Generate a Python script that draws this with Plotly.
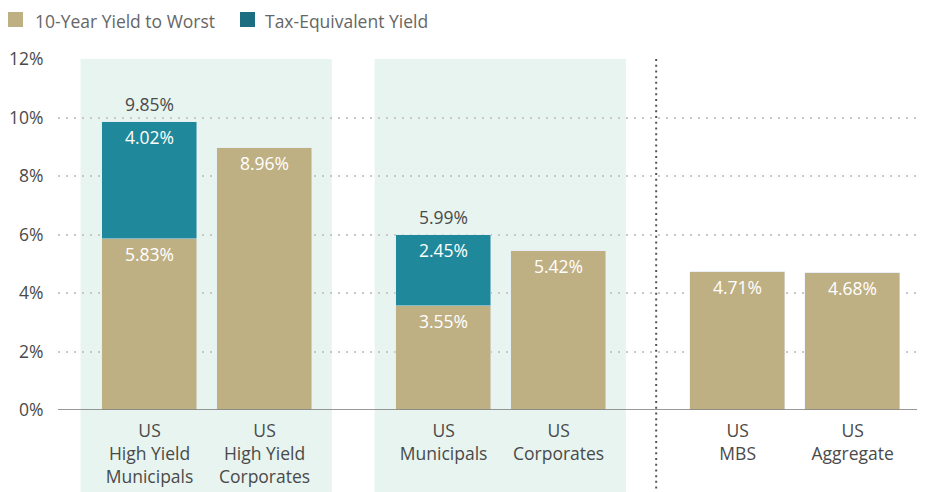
import plotly.graph_objects as go

categories = ["US<br>High Yield<br>Municipals", "US<br>High Yield<br>Corporates",
              "US<br>Municipals", "US<br>Corporates", "US<br>MBS", "US<br>Aggregate"]
group_index = [0, 0, 1, 1, 2, 2]
yield_to_worst = [5.83, 8.96, 3.55, 5.42, 4.71, 4.68]
tax_equiv_add = [4.02, None, 2.45, None, None, None]
tax_equiv_total = [9.85, None, 5.99, None, None, None]
y_ticks = [0, 2, 4, 6, 8, 10, 12]
y_tick_labels = ["0%", "2%", "4%", "6%", "8%", "10%", "12%"]
series_names = ["10-Year Yield to Worst", "Tax-Equivalent Yield"]

TAN = "#BFB084"
TEAL = "#1F889A"
TEAL_LEG = "#1D6E80"
TXT = "#4A4A4A"
GAP = 0.557
xs = [i + GAP * g for i, g in enumerate(group_index)]
FONT = "Open Sans, Arial, sans-serif"
FS = 17.5

W, H = 917, 484
ML, MT, MB = 50, 51, 82
PW, PH = W - ML, H - MT - MB


def px(sx, sy):
    # screen pixel (page has 8px body margin) -> paper coords
    fx, fy = sx - 8, sy - 8
    return (fx - ML) / PW, 1 + (MT - fy) / PH


fig = go.Figure()
fig.add_bar(x=xs, y=yield_to_worst, marker_color=TAN, width=0.826, name=series_names[0],
            showlegend=False)
fig.add_bar(x=xs, y=[v if v is not None else 0 for v in tax_equiv_add], marker_color=TEAL,
            width=0.826, name=series_names[1], showlegend=False)

ann = []
for x, v in zip(xs, yield_to_worst):
    ann.append(dict(x=x, y=v, text=f"{v:.2f}%", showarrow=False, yshift=-15,
                    font=dict(color="white", size=FS, family=FONT)))
for x, b, a, t in zip(xs, yield_to_worst, tax_equiv_add, tax_equiv_total):
    if a is not None:
        ann.append(dict(x=x, y=b + a, text=f"{a:.2f}%", showarrow=False, yshift=-15,
                        font=dict(color="white", size=FS, family=FONT)))
        ann.append(dict(x=x, y=t, text=f"{t:.2f}%", showarrow=False, yshift=18,
                        font=dict(color=TXT, size=FS, family=FONT)))

shapes = []
for g in (0, 1):
    gx = [x for x, gi in zip(xs, group_index) if gi == g]
    shapes.append(dict(type="rect", xref="x", yref="paper", x0=min(gx) - 0.6, x1=max(gx) + 0.585,
                       y0=-0.24, y1=1, fillcolor="#E7F4F0", line_width=0, layer="below"))
sep_x = (xs[3] + xs[4]) / 2 + 0.07
shapes.append(dict(type="line", xref="x", yref="paper", x0=sep_x, x1=sep_x, y0=-0.24, y1=1,
                   line=dict(color="#555555", width=2, dash="2px,3.7px")))
shapes.append(dict(type="line", xref="paper", yref="y", x0=0, x1=1, y0=0, y1=0,
                   line=dict(color="#777777", width=1.5)))

# custom legend (swatch + label)
for name, col, sw_x, tx_x in zip(series_names, [TAN, TEAL_LEG], [8, 240], [33, 263]):
    x0, y0 = px(sw_x, 12)
    x1, y1 = px(sw_x + 15, 27)
    shapes.append(dict(type="rect", xref="paper", yref="paper", x0=x0, x1=x1, y0=y1, y1=y0,
                       fillcolor=col, line_width=0))
    ax, ay = px(tx_x, 20.5)
    ann.append(dict(xref="paper", yref="paper", x=ax, y=ay, xanchor="left", yanchor="middle",
                    text=name, showarrow=False,
                    font=dict(color="#666666", size=FS, family=FONT)))

fig.update_layout(
    barmode="stack",
    width=W, height=H,
    margin=dict(l=ML, r=0, t=MT, b=MB, autoexpand=False),
    plot_bgcolor="rgba(0,0,0,0)", paper_bgcolor="white",
    font=dict(family=FONT, size=FS, color=TXT),
    showlegend=False,
    annotations=ann,
    shapes=shapes,
    bargap=0,
)
fig.update_xaxes(range=[-0.796, 6.743], tickvals=xs, ticktext=categories, showgrid=False,
                 zeroline=False, showline=False, ticks="outside", ticklen=5,
                 tickcolor="rgba(0,0,0,0)", tickfont=dict(size=FS, color=TXT))
fig.update_yaxes(range=[0, 12], tickvals=y_ticks, ticktext=y_tick_labels, showgrid=True,
                 gridcolor="#C8C8C8", griddash="2px,6px", gridwidth=2, zeroline=False,
                 ticks="outside", ticklen=10, tickcolor="rgba(0,0,0,0)",
                 tickfont=dict(size=FS, color=TXT))

fig.write_html("out.html")
